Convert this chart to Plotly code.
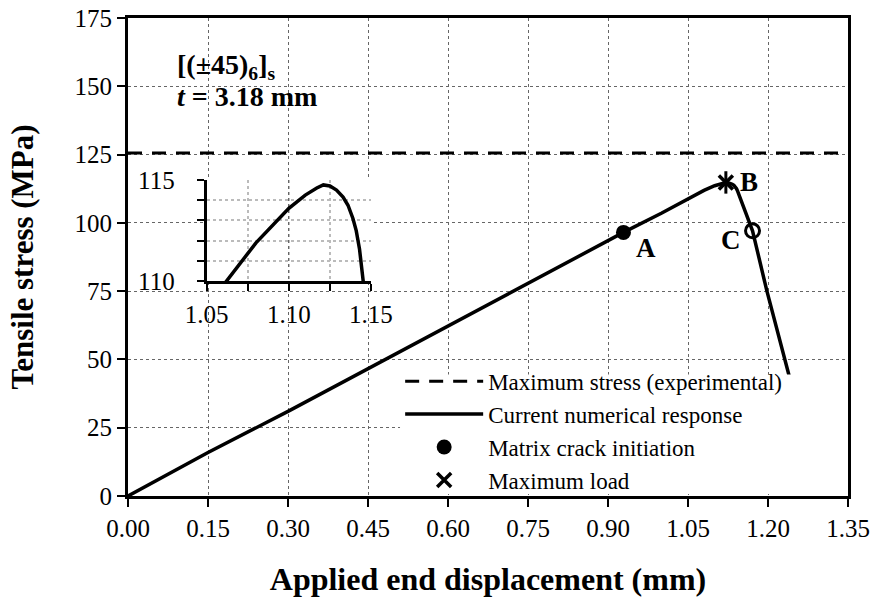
import plotly.graph_objects as go

# curve (displacement mm, stress MPa)
disp = [0.0, 0.15, 0.30, 0.45, 0.60, 0.75, 0.90, 0.929, 1.00, 1.062, 1.08, 1.10,
        1.11, 1.117, 1.121, 1.125, 1.129, 1.133, 1.136, 1.139, 1.141, 1.143,
        1.1445, 1.146, 1.171, 1.198, 1.231, 1.245]
stress = [0.0, 15.9, 31.0, 46.7, 62.2, 77.9, 93.5, 96.5, 103.5, 110.0, 111.9, 113.6,
          114.25, 114.6, 114.75, 114.7, 114.5, 114.15, 113.75, 113.1, 112.5, 111.6,
          110.8, 110.0, 97.1, 75.0, 50.0, 40.0]

max_exp = 125.6
pt_A = (0.929, 96.5)
pt_B = (1.121, 114.8)
pt_C = (1.171, 97.1)

FONT = "Liberation Serif, Times New Roman, serif"

fig = go.Figure()

fig.add_trace(go.Scatter(x=[0, 1.35], y=[max_exp, max_exp], mode="lines",
                         line=dict(color="black", width=3, dash="14px,10px"),
                         name="Maximum stress (experimental)"))
fig.add_trace(go.Scatter(x=disp, y=stress, mode="lines",
                         line=dict(color="black", width=3.5),
                         name="Current numerical response"))
fig.add_trace(go.Scatter(x=[pt_A[0]], y=[pt_A[1]], mode="markers",
                         marker=dict(symbol="circle", size=15, color="black"),
                         name="Matrix crack initiation"))
fig.add_trace(go.Scatter(x=[pt_B[0]], y=[pt_B[1]], mode="markers",
                         marker=dict(symbol="x-thin-open", size=14, color="black",
                                     line=dict(color="black", width=3.5)),
                         name="Maximum load"))
fig.add_trace(go.Scatter(x=[pt_B[0]], y=[pt_B[1]], mode="markers",
                         marker=dict(symbol="line-ns-open", size=16, color="black",
                                     line=dict(color="black", width=3)),
                         showlegend=False))
fig.add_trace(go.Scatter(x=[pt_C[0]], y=[pt_C[1]], mode="markers",
                         marker=dict(symbol="circle-open", size=14, color="black",
                                     line=dict(color="black", width=3)),
                         showlegend=False))

# inset (zoom of the peak)
fig.add_trace(go.Scatter(x=disp, y=stress, mode="lines",
                         line=dict(color="black", width=3.5),
                         xaxis="x2", yaxis="y2", showlegend=False))

# point labels
for (px, py), lab, dx, dy in [(pt_A, "A", 23, -16), (pt_B, "B", 23, 0), (pt_C, "C", -22, -9)]:
    fig.add_annotation(x=px, y=py, text="<b>" + lab + "</b>", showarrow=False,
                       xshift=dx, yshift=dy, font=dict(family=FONT, size=27, color="black"))

fig.add_annotation(xref="paper", yref="paper", x=0.065, y=0.8976, xanchor="left", yanchor="middle",
                   text="<b>[(±45)<sub>6</sub>]<sub>s</sub></b>", showarrow=False,
                   font=dict(family=FONT, size=28, color="black"))
fig.add_annotation(xref="paper", yref="paper", x=0.065, y=0.835, xanchor="left", yanchor="middle",
                   text="<b><i>t</i> = 3.18 mm</b>", showarrow=False,
                   font=dict(family=FONT, size=28, color="black"))

# white legend box (excel style) hiding the tail of the curve
fig.add_shape(type="rect", xref="paper", yref="paper", x0=0.3778, x1=0.9972, y0=0.0042, y1=0.254,
              fillcolor="white", line=dict(width=0), layer="above")

fig.update_layout(
    width=870, height=605,
    margin=dict(l=128, r=22, t=18, b=108.5, autoexpand=False),
    paper_bgcolor="white", plot_bgcolor="white",
    font=dict(family=FONT, size=25, color="black"),
    legend=dict(x=0.378, y=0.285, xanchor="left", yanchor="top",
                bgcolor="rgba(0,0,0,0)", borderwidth=0, tracegroupgap=0,
                font=dict(family=FONT, size=23, color="black"),
                itemwidth=78),
    xaxis=dict(range=[0, 1.35], dtick=0.15, tick0=0, tickformat=".2f",
               showline=True, linecolor="black", linewidth=3, mirror=True,
               ticks="outside", ticklen=8, tickwidth=2, tickcolor="black",
               showgrid=True, gridcolor="#666", gridwidth=1, griddash="dot",
               zeroline=False, automargin=False, ticklabeloverflow="allow",
               title=dict(text="<b>Applied end displacement (mm)</b>",
                          font=dict(family=FONT, size=32), standoff=27)),
    yaxis=dict(range=[0, 175], dtick=25, tick0=0,
               showline=True, linecolor="black", linewidth=3, mirror=True,
               ticks="outside", ticklen=8, tickwidth=2, tickcolor="black",
               showgrid=True, gridcolor="#666", gridwidth=1, griddash="dot",
               zeroline=False, automargin=False, ticklabeloverflow="allow",
               title=dict(text="<b>Tensile stress (MPa)</b>",
                          font=dict(family=FONT, size=31), standoff=32)),
    xaxis2=dict(domain=[0.1093, 0.3375], anchor="y2", range=[1.05, 1.15],
                tickvals=[1.05, 1.10, 1.15], tickformat=".2f",
                showline=True, linecolor="black", linewidth=3,
                ticks="outside", ticklen=7, tickwidth=2, tickcolor="black",
                ticklabelstandoff=2,
                showgrid=True, gridcolor="#666", gridwidth=1, griddash="dot",
                minor=dict(dtick=0.025, tick0=1.05, showgrid=True, gridcolor="#bbb", gridwidth=2,
                           ticks="outside", ticklen=7, tickwidth=2, tickcolor="black"),
                zeroline=False),
    yaxis2=dict(domain=[0.4489, 0.6614], anchor="x2", range=[110, 115],
                tickvals=[110, 115],
                showline=True, linecolor="black", linewidth=3,
                ticks="outside", ticklen=7, tickwidth=2, tickcolor="black",
                ticklabelstandoff=17,
                showgrid=True, gridcolor="#666", gridwidth=1, griddash="dot",
                minor=dict(dtick=1, tick0=110, showgrid=True, gridcolor="#bbb", gridwidth=2,
                           ticks="outside", ticklen=7, tickwidth=2, tickcolor="black"),
                zeroline=False),
)

# drop the default 8px body margin so the figure fills the window exactly
fig.write_html("out.html", config={"displayModeBar": False},
               post_script="document.body.style.margin='0';")
